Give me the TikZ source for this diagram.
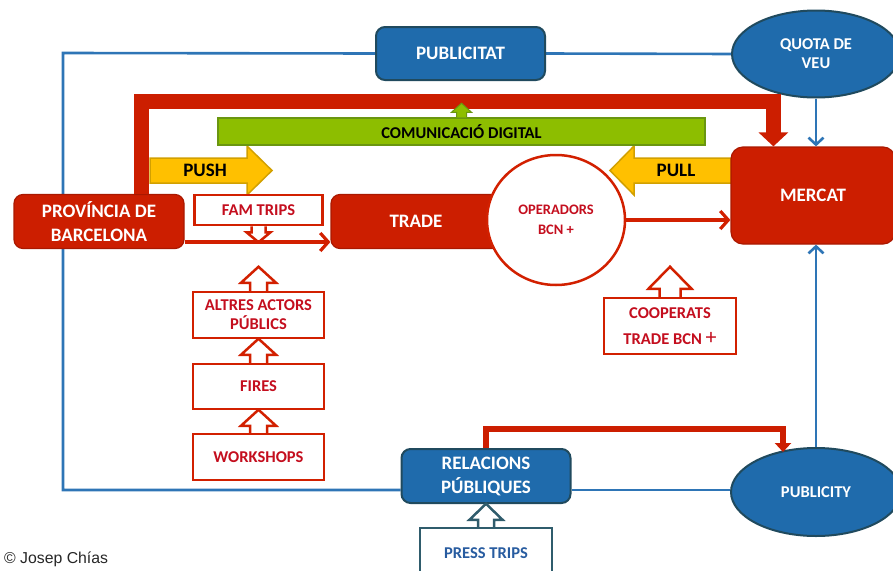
\documentclass[tikz,border=0pt]{standalone}
\usepackage{fontspec}
\setmainfont{Carlito}
\newfontfamily\creditfont{Liberation Sans}
\usetikzlibrary{shapes.geometric,arrows.meta,backgrounds}

\definecolor{mred}{RGB}{204,30,0}
\definecolor{mredd}{RGB}{170,24,0}
\definecolor{bred}{RGB}{210,32,0}
\definecolor{tred}{RGB}{196,14,30}
\definecolor{mblue}{RGB}{31,107,172}
\definecolor{mblued}{RGB}{32,74,94}
\definecolor{lblue}{RGB}{46,117,182}
\definecolor{tblue}{RGB}{40,92,160}
\definecolor{pteal}{RGB}{47,92,108}
\definecolor{myell}{RGB}{255,192,0}
\definecolor{myelld}{RGB}{210,160,0}
\definecolor{mgreen}{RGB}{141,190,0}
\definecolor{mgreend}{RGB}{106,150,16}

\tikzset{
  base/.style={inner sep=0pt, align=center},
  bigfont/.style={font=\bfseries\fontsize{19}{24}\selectfont},
  midfont/.style={font=\bfseries\fontsize{16.5}{19}\selectfont},
  redbox/.style={base, rectangle, rounded corners=9pt, fill=mred, draw=mredd,
    line width=1.2pt, text=white, bigfont},
  bluebox/.style={base, rectangle, rounded corners=9pt, fill=mblue, draw=mblued,
    line width=2pt, text=white, bigfont},
  blueell/.style={base, ellipse, fill=mblue, draw=mblued, line width=2pt,
    text=white, midfont},
  outbox/.style={base, rectangle, fill=white, draw=bred, line width=2.5pt,
    text=tred, midfont},
  frameline/.style={draw=lblue, line width=2.6pt},
  bluearrow/.style={draw=lblue, line width=2.6pt, -{Straight Barb[length=7pt,width=15pt]}},
  thinred/.style={draw=bred, line width=3.2pt, -{Straight Barb[length=8pt,width=18pt]}},
  blockarrow/.style={line width=1.5pt, line join=miter},
  pics/uparrow/.style args={#1/#2/#3/#4}{code={
    \draw[pic actions] (-#1,0) -- (-#1,-#3) -- (-#2,-#3) -- (0,-#4)
      -- (#2,-#3) -- (#1,-#3) -- (#1,0);}},
}

\begin{document}
\begin{tikzpicture}[x=1pt,y=-1pt]
\useasboundingbox (0,0) rectangle (893,570);
\clip (0,0) rectangle (893,570);

% ---- boxes ----
\node[bluebox, minimum width=169pt, minimum height=53pt] (publicitat) at (460.5,53.5) {PUBLICITAT};
\node[blueell, minimum width=168pt, minimum height=87pt] (quota) at (816,54) {QUOTA DE\\VEU};
\node[redbox, rounded corners=12pt, minimum width=164pt, minimum height=97pt] (mercat) at (813,195.5) {MERCAT};
\node[redbox, minimum width=170pt, minimum height=54pt] (prov) at (99,221.5) {PROVÍNCIA DE\\BARCELONA};
\node[redbox, minimum width=170pt, minimum height=54pt] (trade) at (416,221.5) {TRADE};
\node[base, ellipse, fill=white, draw=bred, line width=2.5pt, text=tred,
      minimum width=138pt, minimum height=130pt,
      font=\bfseries\fontsize{14.5}{20}\selectfont] (oper) at (556,220) {OPERADORS\\BCN +};
\node[outbox, minimum width=128pt, minimum height=30pt] (fam) at (258.5,210) {FAM TRIPS};
\node[outbox, minimum width=131pt, minimum height=46pt] (altres) at (258.5,315) {ALTRES ACTORS\\PÚBLICS};
\node[outbox, minimum width=131pt, minimum height=45pt] (fires) at (258.5,386.5) {FIRES};
\node[outbox, minimum width=131pt, minimum height=46pt] (work) at (258.5,457) {WORKSHOPS};
\node[outbox, minimum width=132pt, minimum height=56pt,
      font=\bfseries\fontsize{16.5}{26}\selectfont] (coop) at (670,326)
      {COOPERATS\\TRADE BCN {\mdseries\fontsize{22}{26}\selectfont +}};
\node[bluebox, minimum width=169pt, minimum height=54pt] (relac) at (486,476) {RELACIONS\\PÚBLIQUES};
\node[blueell, minimum width=170pt, minimum height=88pt] (publicity) at (816,492) {PUBLICITY};
\node[base, rectangle, fill=white, draw=pteal, line width=2.5pt, text=tblue, midfont,
      minimum width=132pt, minimum height=50pt] (press) at (486,553) {PRESS TRIPS};
\node[base, fill=mgreen, draw=mgreend, line width=1.5pt, minimum width=487pt,
      minimum height=27pt, font=\bfseries\fontsize{16.5}{18}\selectfont]
      (digital) at (461.5,131.5) {COMUNICACIÓ DIGITAL};
\node[base, bigfont] (push) at (205,170.5) {PUSH};
\node[base, bigfont] (pull) at (676,170.5) {PULL};
\node[base, anchor=west, text=black!85, font=\creditfont\fontsize{15.8}{18}\selectfont]
      (credit) at (4,559) {© Josep Chías};

\coordinate (frameTL) at (63,53);
\coordinate (frameBL) at (63,490);
\coordinate (provline) at (0,242);
\coordinate (prtip) at (783,452);

% ---- background: frame and push/pull arrows ----
\begin{scope}[on background layer]
  \draw[frameline] (publicitat.west) -- (frameTL) -- (frameBL) -- (frameBL -| relac.west);
  \draw[frameline] (publicitat.east) -- (quota.west);
  \draw[frameline] (relac.east |- frameBL) -- (frameBL -| publicity.west);
  \fill[myell, draw=myelld, blockarrow]
    (150,158) -- (247,158) -- (247,146) -- (272,170.5) -- (247,195)
    -- (247,183) -- (150,183) -- cycle;
  \fill[myell, draw=myelld, blockarrow]
    (732,158) -- (634,158) -- (634,146) -- (610,170.5) -- (634,195)
    -- (634,183) -- (732,183) -- cycle;
\end{scope}

% ---- connectors ----
\draw[bluearrow] (quota.south) -- (quota.south |- mercat.north);
\draw[bluearrow] (publicity.north) -- (publicity.north |- mercat.south);
\draw[thinred] (prov.east |- provline) -- (trade.west |- provline);
\draw[thinred] (oper.east) -- (mercat.west |- oper.east);

% thick red bracket from the province to the market
\draw[draw=mred, line width=15pt, -{Triangle[length=14pt,width=29pt]}]
  ([xshift=42pt]prov.north) -- ++(0,-92) -| ([xshift=43pt]mercat.north west);
% public relations to publicity
\draw[draw=mred, line width=6pt, -{Triangle[length=9pt,width=16pt]}]
  (relac.north) -- ++(0,-19) -| (prtip);

% green arrow up from the digital bar
\pic[fill=mgreen, draw=mgreend, line width=1pt] at (digital.north) {uparrow={5/10/5/14}};

% hollow block arrows
\pic[draw=bred, blockarrow, line width=2.5pt, rotate=180] at (fam.south) {uparrow={7/12/6/16}};
\pic[draw=bred, blockarrow, line width=2.5pt] at (altres.north) {uparrow={8.5/17.5/8/24}};
\pic[draw=bred, blockarrow, line width=2.5pt] at (fires.north) {uparrow={8.5/17.5/8/24}};
\pic[draw=bred, blockarrow, line width=2.5pt] at (work.north) {uparrow={8.5/17.5/7/23}};
\pic[draw=bred, blockarrow, line width=2.5pt] at (coop.north) {uparrow={10.5/21.5/8/30}};
\pic[draw=pteal, blockarrow, line width=2.5pt] at (press.north) {uparrow={8/16.5/7/23}};
\end{tikzpicture}
\end{document}
